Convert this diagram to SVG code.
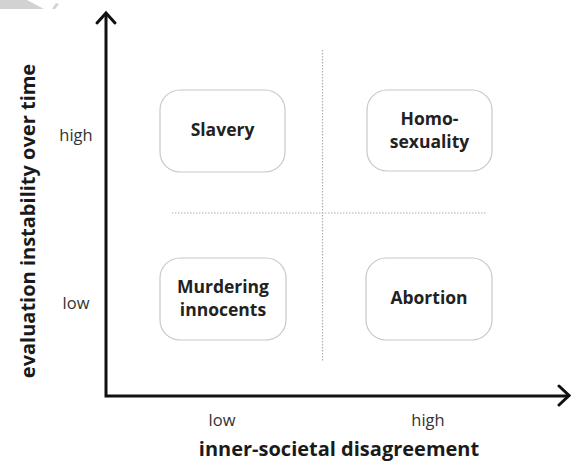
<svg xmlns="http://www.w3.org/2000/svg" width="571" height="463" viewBox="0 0 571 463">
<style>
.box{fill:#fff;stroke:#c8c8c8;stroke-width:1.2}
.lbl{font-family:"Open Sans","DejaVu Sans",sans-serif;font-weight:bold;font-size:17.5px;fill:#222;text-anchor:middle}
.tick{font-family:"Open Sans","DejaVu Sans",sans-serif;font-size:16.5px;fill:#333;text-anchor:middle}
.title{font-family:"Open Sans","DejaVu Sans",sans-serif;font-weight:bold;font-size:20px;fill:#1a1a1a;text-anchor:middle}
.axis{stroke:#111;stroke-width:3;fill:none}
.dot{stroke:#b0b0b0;stroke-width:1.2;stroke-dasharray:1.5 1.5;fill:none}
</style>
<rect width="571" height="463" fill="#fff"/>
<path d="M0,0 L27,0 L44,9 L0,9 Z" fill="#d2d2d2"/>
<path d="M52,9 L56,3 L59,4 L55,9 Z" fill="#d2d2d2"/>
<g id="connectors">
<path class="dot" d="M322.5,50 V362"/>
<path class="dot" d="M172,213 H486"/>
<path class="axis" d="M106,13 V396 H569"/>
<path class="axis" stroke-linecap="round" d="M97,23 L106,13 L115,23"/>
<path class="axis" stroke-linecap="round" d="M559,386 L569,395.5 L559,405"/>
</g>
<g id="slavery"><rect class="box" x="160" y="90" width="125" height="82" rx="20"/><text class="lbl" x="222.5" y="136">Slavery</text></g>
<g id="homosexuality"><rect class="box" x="367" y="90" width="125" height="81" rx="20"/><text class="lbl" x="429.5" y="125">Homo-</text><text class="lbl" x="429.5" y="148">sexuality</text></g>
<g id="murdering"><rect class="box" x="160" y="258" width="126" height="82" rx="20"/><text class="lbl" x="223" y="293">Murdering</text><text class="lbl" x="223" y="316">innocents</text></g>
<g id="abortion"><rect class="box" x="366" y="258" width="126" height="82" rx="20"/><text class="lbl" x="429" y="304">Abortion</text></g>
<g id="axis-labels">
<text class="tick" x="76" y="141">high</text>
<text class="tick" x="76" y="309">low</text>
<text class="tick" x="222" y="426">low</text>
<text class="tick" x="428" y="426">high</text>
<text class="title" x="339" y="456">inner-societal disagreement</text>
<text class="title" transform="translate(35,221) rotate(-90)">evaluation instability over time</text>
</g>
</svg>
